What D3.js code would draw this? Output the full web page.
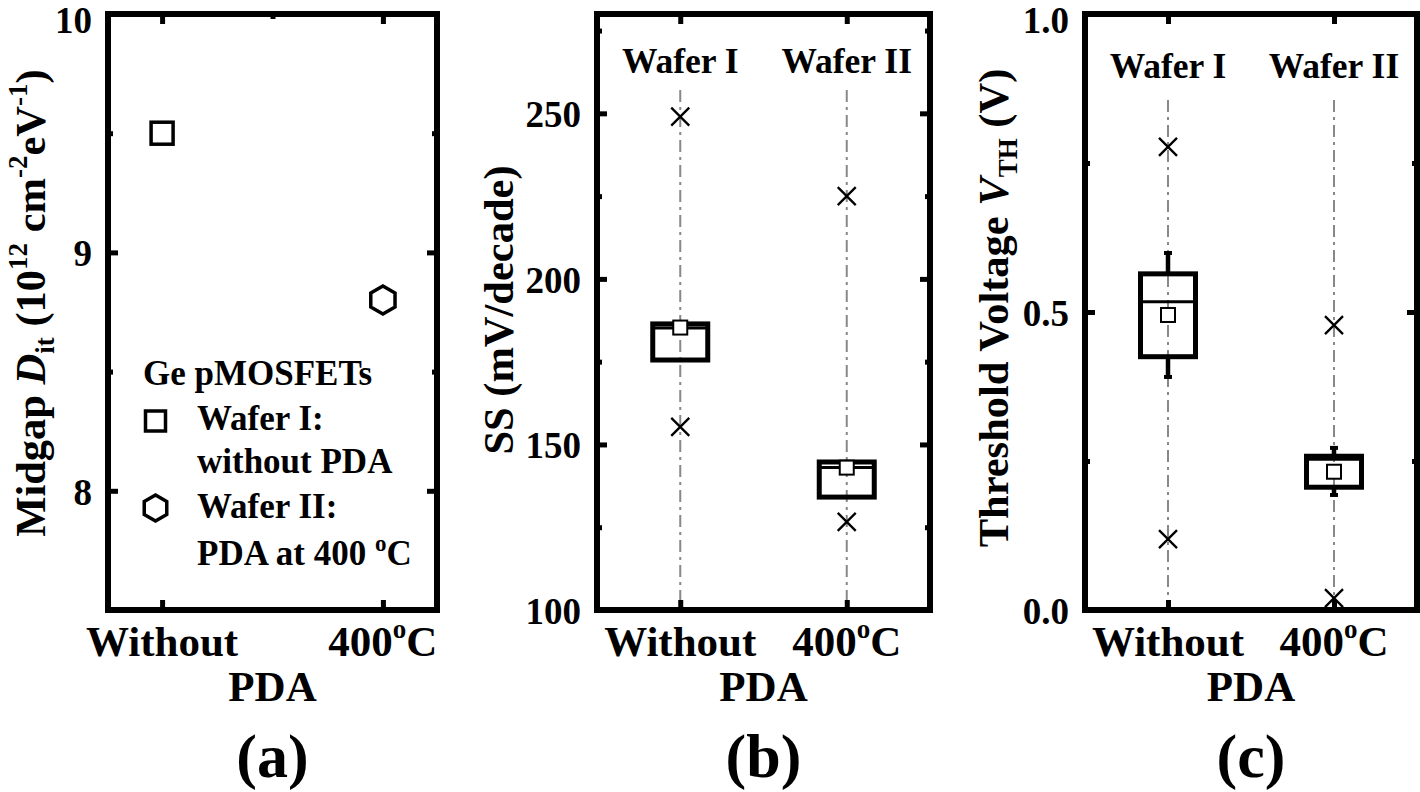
<!DOCTYPE html>
<html><head><meta charset="utf-8">
<script src="https://cdn.jsdelivr.net/npm/d3@7"></script>
<style>
body{margin:0;background:#fff}
svg{display:block}
text{font-family:"Liberation Serif","Times New Roman",serif;font-weight:bold;fill:#000}
</style>
</head><body>
<svg id="chart" width="1420" height="792"></svg>
<script>
// ---------- DATA ----------
const categories = ["Without", "400"];          // x tick labels ("400" gets °C appended)
const xAxisTitle = "PDA";
const panelLabels = ["(a)", "(b)", "(c)"];
const waferLabels = ["Wafer I", "Wafer II"];

// (a) midgap Dit (10^12 cm^-2 eV^-1)
const ditValues = [9.5, 8.8];
const ditTicks = [8, 9, 10];
const ditMinorTicks = [7.5, 8.5, 9.5];

// (b) SS (mV/decade)
const ssTicks = [100, 150, 200, 250];
const ssMinorTicks = [125, 175, 225, 275];
const ssWhiskLow = [175.5, 134.1];
const ssQ1 = [175.5, 134.1];
const ssMedian = [185.2, 143.0];
const ssQ3 = [186.4, 144.7];
const ssWhiskHigh = [186.4, 144.7];
const ssMean = [185.3, 143.0];
const ssOutHigh = [249, 225];
const ssOutLow = [155.3, 126.6];

// (c) Threshold voltage VTH (V)
const vthTicks = [0.0, 0.5, 1.0];
const vthMinorTicks = [0.25, 0.75];
const vthWhiskLow = [0.391, 0.193];
const vthQ1 = [0.425, 0.206];
const vthMedian = [0.517, 0.253];
const vthQ3 = [0.564, 0.258];
const vthWhiskHigh = [0.599, 0.272];
const vthMean = [0.495, 0.232];
const vthOutHigh = [0.777, 0.478];
const vthOutLow = [0.119, 0.02];

// ---------- DRAW ----------
const svg = d3.select("#chart");
const TOP = 14, BOT = 610;
const FS_TICK = 37, FS_XLAB = 43, FS_TITLE = 42.5, FS_LEG = 35, FS_PANEL = 62, FS_WAFER = 35.5;

function hexPath(cx, cy, r) {
  const pts = d3.range(6).map(k => {
    const a = (-90 + 60 * k) * Math.PI / 180;
    return [cx + r * Math.cos(a), cy + r * Math.sin(a)];
  });
  return "M" + pts.map(p => p.join(",")).join("L") + "Z";
}

function frameAndAxes(g, x, y, opt) {
  const [x0, x1] = x.range();
  const yMax = y.domain()[1];
  const styleAxis = sel => {
    sel.select(".domain").remove();
    sel.selectAll(".tick line").attr("stroke", "#000").attr("stroke-width", 5);
  };
  g.append("g").attr("transform", `translate(${x0},0)`)
    .call(d3.axisLeft(y).tickValues(opt.yTicks).tickSize(-10).tickPadding(16).tickFormat(opt.yFmt))
    .call(styleAxis)
    .call(s => s.selectAll("text").attr("font-size", FS_TICK)
      .attr("dy", d => d === yMax ? "0.5em" : "0.36em")
      .attr("font-family", '"Liberation Serif",serif').attr("font-weight", "bold").attr("fill", "#000"));
  g.append("g").attr("transform", `translate(${x0},0)`)
    .call(d3.axisLeft(y).tickValues(opt.yMinor).tickSize(-5).tickFormat(""))
    .call(styleAxis);
  g.append("g").attr("transform", `translate(${x1},0)`)
    .call(d3.axisRight(y).tickValues(opt.yTicks).tickSize(-10).tickFormat(""))
    .call(styleAxis);
  g.append("g").attr("transform", `translate(${x1},0)`)
    .call(d3.axisRight(y).tickValues(opt.yMinor).tickSize(-5).tickFormat(""))
    .call(styleAxis);
  g.append("g").attr("transform", `translate(0,${BOT})`)
    .call(d3.axisBottom(x).tickValues([0, 1]).tickSize(-10).tickFormat(""))
    .call(styleAxis);
  g.append("g").attr("transform", `translate(0,${TOP})`)
    .call(d3.axisTop(x).tickValues([0, 1]).tickSize(-10).tickFormat(""))
    .call(styleAxis);
  if (opt.xMinorTop) {
    g.append("g").attr("transform", `translate(0,${TOP})`)
      .call(d3.axisTop(x).tickValues([0.5]).tickSize(-5).tickFormat(""))
      .call(styleAxis);
  }
  g.append("rect").attr("x", x0).attr("y", TOP).attr("width", x1 - x0).attr("height", BOT - TOP)
    .attr("fill", "none").attr("stroke", "#000").attr("stroke-width", 6);

  categories.forEach((c, i) => {
    const t = g.append("text").attr("x", x(i)).attr("y", 656).attr("text-anchor", "middle").attr("font-size", FS_XLAB);
    if (i === 0) t.text(c);
    else {
      t.append("tspan").text(c);
      t.append("tspan").attr("font-size", 27).attr("dy", -18).text("o");
      t.append("tspan").attr("dy", 18).text("C");
    }
  });
  const xc = (x0 + x1) / 2;
  g.append("text").attr("x", xc).attr("y", 701).attr("text-anchor", "middle").attr("font-size", FS_XLAB).text(xAxisTitle);
  g.append("text").attr("x", xc).attr("y", 777).attr("text-anchor", "middle").attr("font-size", FS_PANEL).text(opt.label);
}

function boxPanel(g, x, y, d, opt) {
  const bw = 55;
  [0, 1].forEach(i => {
    g.append("line").attr("x1", x(i)).attr("x2", x(i)).attr("y1", opt.guideTop).attr("y2", BOT - 3)
      .attr("stroke", "#888").attr("stroke-width", 2).attr("stroke-dasharray", "12,5,3,5");
    g.append("text").attr("x", x(i)).attr("y", opt.waferY).attr("text-anchor", "middle")
      .attr("font-size", FS_WAFER).text(waferLabels[i]);
  });
  [0, 1].forEach(i => {
    const cx = x(i);
    [[d.q3[i], d.wHi[i]], [d.q1[i], d.wLo[i]]].forEach(([a, b]) => {
      if (Math.abs(y(a) - y(b)) > 1) {
        g.append("line").attr("x1", cx).attr("x2", cx).attr("y1", y(a)).attr("y2", y(b))
          .attr("stroke", "#000").attr("stroke-width", 4.5);
        g.append("line").attr("x1", cx - 4).attr("x2", cx + 4).attr("y1", y(b)).attr("y2", y(b))
          .attr("stroke", "#000").attr("stroke-width", 4);
      }
    });
    g.append("rect").attr("x", cx - bw / 2).attr("y", y(d.q3[i])).attr("width", bw)
      .attr("height", y(d.q1[i]) - y(d.q3[i])).attr("fill", "none").attr("stroke", "#000").attr("stroke-width", 5);
    g.append("line").attr("x1", cx - bw / 2).attr("x2", cx + bw / 2).attr("y1", y(d.med[i])).attr("y2", y(d.med[i]))
      .attr("stroke", "#000").attr("stroke-width", 3);
    g.append("rect").attr("x", cx - 7).attr("y", y(d.mean[i]) - 7).attr("width", 14).attr("height", 14)
      .attr("fill", "#fff").attr("stroke", "#000").attr("stroke-width", 2);
    [d.hi[i], d.lo[i]].forEach(v => {
      const py = y(v), s = 9;
      g.append("path").attr("d", `M${cx - s},${py - s}L${cx + s},${py + s}M${cx - s},${py + s}L${cx + s},${py - s}`)
        .attr("stroke", "#000").attr("stroke-width", 2.3).attr("fill", "none");
    });
  });
}

// ---- Panel (a)
{
  const g = svg.append("g");
  const x = d3.scaleLinear().domain([-0.245, 1.245]).range([108, 437]);
  const y = d3.scaleLinear().domain([7.5, 10]).range([BOT, TOP]);
  frameAndAxes(g, x, y, { yTicks: ditTicks, yMinor: ditMinorTicks, yFmt: d3.format("d"), label: panelLabels[0], xMinorTop: true });
  g.append("rect").attr("x", x(0) - 11).attr("y", y(ditValues[0]) - 11).attr("width", 22).attr("height", 22)
    .attr("fill", "none").attr("stroke", "#000").attr("stroke-width", 3.5);
  g.append("path").attr("d", hexPath(x(1), y(ditValues[1]), 14))
    .attr("fill", "none").attr("stroke", "#000").attr("stroke-width", 3.5);
  // legend
  g.append("text").attr("x", 143).attr("y", 385).attr("font-size", FS_LEG).text("Ge pMOSFETs");
  g.append("rect").attr("x", 145.5).attr("y", 411).attr("width", 20).attr("height", 20)
    .attr("fill", "none").attr("stroke", "#000").attr("stroke-width", 3.5);
  g.append("text").attr("x", 197).attr("y", 430).attr("font-size", FS_LEG).text("Wafer I:");
  g.append("text").attr("x", 197).attr("y", 473).attr("font-size", FS_LEG).text("without PDA");
  g.append("path").attr("d", hexPath(155.5, 508, 13)).attr("fill", "none").attr("stroke", "#000").attr("stroke-width", 3.5);
  g.append("text").attr("x", 197).attr("y", 518).attr("font-size", FS_LEG).text("Wafer II:");
  const t = g.append("text").attr("x", 197).attr("y", 565).attr("font-size", FS_LEG);
  t.append("tspan").text("PDA at 400 ");
  t.append("tspan").attr("font-size", 23).attr("dy", -14).text("o");
  t.append("tspan").attr("dy", 14).text("C");
  // y title
  const yt = g.append("text").attr("transform", "translate(45,303) rotate(-90)").attr("text-anchor", "middle").attr("font-size", FS_TITLE);
  yt.append("tspan").text("Midgap ");
  yt.append("tspan").attr("font-style", "italic").text("D");
  yt.append("tspan").attr("font-size", 27).attr("dy", 9).text("it");
  yt.append("tspan").attr("dy", -9).text(" (10");
  yt.append("tspan").attr("font-size", 27).attr("dy", -18).text("12");
  yt.append("tspan").attr("dy", 18).text(" cm");
  yt.append("tspan").attr("font-size", 27).attr("dy", -18).text("-2");
  yt.append("tspan").attr("dy", 18).text("eV");
  yt.append("tspan").attr("font-size", 27).attr("dy", -18).text("-1");
  yt.append("tspan").attr("dy", 18).text(")");
}

// ---- Panel (b)
{
  const g = svg.append("g");
  const x = d3.scaleLinear().domain([-0.5, 1.5]).range([597, 930]);
  const y = d3.scaleLinear().domain([100, 280]).range([BOT, TOP]);
  boxPanel(g, x, y, { wLo: ssWhiskLow, q1: ssQ1, med: ssMedian, q3: ssQ3, wHi: ssWhiskHigh, mean: ssMean, hi: ssOutHigh, lo: ssOutLow },
    { guideTop: 90, waferY: 73 });
  frameAndAxes(g, x, y, { yTicks: ssTicks, yMinor: ssMinorTicks, yFmt: d3.format("d"), label: panelLabels[1] });
  g.append("text").attr("transform", "translate(513,310) rotate(-90)").attr("text-anchor", "middle")
    .attr("font-size", FS_TITLE).text("SS (mV/decade)");
}

// ---- Panel (c)
{
  const g = svg.append("g");
  const x = d3.scaleLinear().domain([-0.5, 1.5]).range([1085, 1417]);
  const y = d3.scaleLinear().domain([0, 1]).range([BOT, TOP]);
  boxPanel(g, x, y, { wLo: vthWhiskLow, q1: vthQ1, med: vthMedian, q3: vthQ3, wHi: vthWhiskHigh, mean: vthMean, hi: vthOutHigh, lo: vthOutLow },
    { guideTop: 100, waferY: 78 });
  frameAndAxes(g, x, y, { yTicks: vthTicks, yMinor: vthMinorTicks, yFmt: d3.format(".1f"), label: panelLabels[2] });
  const yt = g.append("text").attr("transform", "translate(1008,308) rotate(-90)").attr("text-anchor", "middle").attr("font-size", FS_TITLE);
  yt.append("tspan").text("Threshold Voltage ");
  yt.append("tspan").attr("font-style", "italic").text("V");
  yt.append("tspan").attr("font-size", 27).attr("dy", 9).text("TH");
  yt.append("tspan").attr("dy", -9).text(" (V)");
}
</script>
</body></html>
